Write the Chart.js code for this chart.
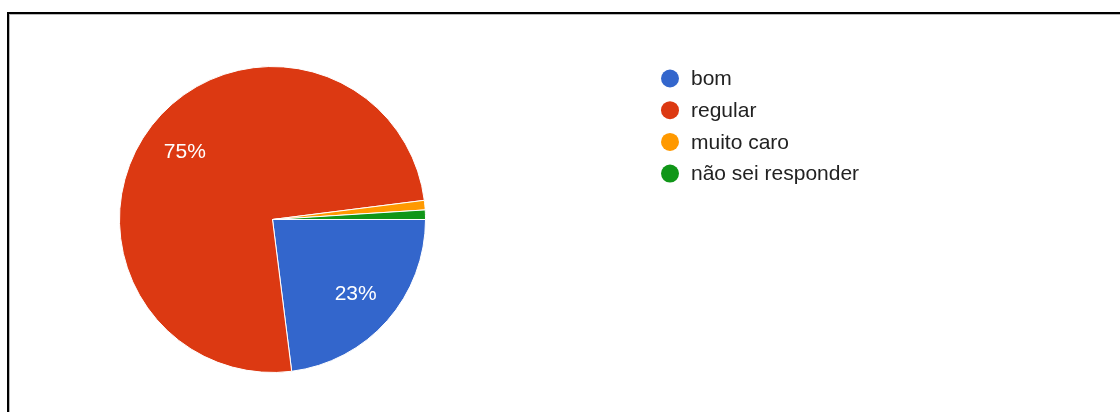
<!DOCTYPE html>
<html>
<head>
<meta charset="utf-8">
<script src="https://cdn.jsdelivr.net/npm/chart.js@4/dist/chart.umd.min.js"></script>
<style>
  html, body { margin: 0; padding: 0; background: #fff; }
  #wrap { position: relative; width: 1120px; height: 412px; overflow: hidden; }
  #frame {
    position: absolute; left: 7px; top: 12px; width: 1120px; height: 420px;
    border-top: 2px solid #000; border-left: 2px solid #000;
    box-shadow: inset 1px 1px 0 #b8b8b8;
  }
  canvas { position: absolute; left: 0; top: 0; }
</style>
</head>
<body>
<div id="wrap">
  <div id="frame"></div>
  <canvas id="pieChart" width="1120" height="412"></canvas>
</div>
<script>
const answers = ['bom', 'regular', 'muito caro', 'não sei responder'];
const shares = [23, 75, 1, 1];
const sliceColors = ['#3366cc', '#dc3912', '#ff9900', '#109618'];

const FONT = '"Liberation Sans", Arial, sans-serif';

// percentage text inside the bigger slices
const sliceLabels = {
    id: 'sliceLabels',
    afterDatasetsDraw(chart) {
        const ctx = chart.ctx;
        const arcs = chart.getDatasetMeta(0).data;
        const total = shares.reduce((a, b) => a + b, 0);
        ctx.save();
        ctx.font = '21px ' + FONT;
        ctx.fillStyle = '#ffffff';
        ctx.textAlign = 'center';
        ctx.textBaseline = 'middle';
        arcs.forEach((arc, i) => {
            const pct = shares[i] / total * 100;
            if (pct < 5) return;
            const mid = (arc.startAngle + arc.endAngle) / 2;
            const r = arc.outerRadius * 0.725;
            ctx.fillText(Math.round(pct) + '%', arc.x + Math.cos(mid) * r, arc.y + Math.sin(mid) * r + 1);
        });
        ctx.restore();
    }
};

// legend column to the right of the pie
const sideLegend = {
    id: 'sideLegend',
    afterDraw(chart) {
        const ctx = chart.ctx;
        ctx.save();
        ctx.font = '21px ' + FONT;
        ctx.textBaseline = 'middle';
        answers.forEach((name, i) => {
            const y = 78.5 + i * 31.7;
            ctx.fillStyle = sliceColors[i];
            ctx.beginPath();
            ctx.arc(670, y, 9, 0, Math.PI * 2);
            ctx.fill();
            ctx.fillStyle = '#222222';
            ctx.fillText(name, 691, y + 1);
        });
        ctx.restore();
    }
};

new Chart(document.getElementById('pieChart'), {
    type: 'pie',
    data: {
        labels: answers,
        datasets: [{
            data: shares,
            backgroundColor: sliceColors,
            borderColor: '#ffffff',
            borderWidth: 1
        }]
    },
    options: {
        responsive: false,
        animation: false,
        rotation: 90,
        layout: { padding: { left: 119, right: 694, top: 66, bottom: 39 } },
        plugins: {
            legend: { display: false },
            tooltip: { enabled: false }
        }
    },
    plugins: [sliceLabels, sideLegend]
});
</script>
</body>
</html>
